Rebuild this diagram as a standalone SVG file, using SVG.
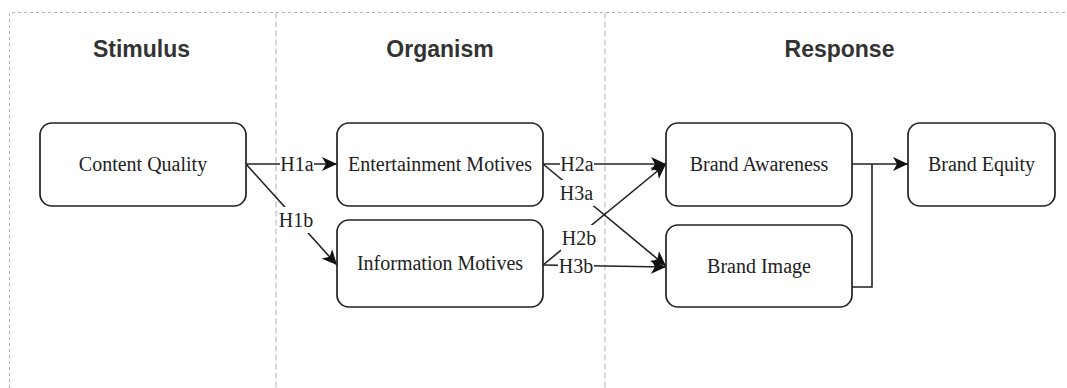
<svg xmlns="http://www.w3.org/2000/svg" width="1067" height="388" viewBox="0 0 1067 388">
<defs>
<style>
.lane{fill:none;stroke:#b3b3b3;stroke-width:1}
.outer{stroke-dasharray:3 3}
.inner{stroke-dasharray:6 3}
.hdr{font-family:"Liberation Sans",Arial,sans-serif;font-weight:bold;font-size:23px;fill:#333;text-anchor:middle}
.box rect{fill:#fff;stroke:#222;stroke-width:1.7}
.box text,.lbl text{font-family:"Liberation Serif","Times New Roman",serif;font-size:20px;fill:#222;text-anchor:middle}
.edge{fill:none;stroke:#222;stroke-width:1.6}
.lbl rect{fill:#fff;stroke:none}
</style>
<marker id="arr" markerUnits="userSpaceOnUse" markerWidth="15" markerHeight="14" refX="15" refY="7" orient="auto">
<path d="M0,0 L15,7 L0,14 L4,7 Z" fill="#111"/>
</marker>
</defs>
<rect width="1067" height="388" fill="#fff"/>
<g id="lanes">
<path class="lane outer" d="M9.5,388 V12.5 H1067"/>
<path class="lane inner" d="M276,12.5 V388"/>
<path class="lane inner" d="M605,12.5 V388"/>
<text class="hdr" x="141.5" y="57">Stimulus</text>
<text class="hdr" x="440" y="57">Organism</text>
<text class="hdr" x="839.5" y="57">Response</text>
</g>
<g id="connectors">
<path class="edge" d="M246,164 H337" marker-end="url(#arr)"/>
<path class="edge" d="M246,164 L337,265" marker-end="url(#arr)"/>
<path class="edge" d="M543,164 H666" marker-end="url(#arr)"/>
<path class="edge" d="M543,164 L666,266" marker-end="url(#arr)"/>
<path class="edge" d="M543,265 L666,164" marker-end="url(#arr)"/>
<path class="edge" d="M543,265 L666,267" marker-end="url(#arr)"/>
<path class="edge" d="M852,164 H908" marker-end="url(#arr)"/>
<path class="edge" d="M852,287 H872 V164"/>
<g class="lbl">
<rect x="280" y="153" width="34" height="22"/><text x="297" y="171">H1a</text>
<rect x="278" y="207" width="36" height="26"/><text x="296" y="227">H1b</text>
<rect x="560" y="153" width="34" height="22"/><text x="577" y="171">H2a</text>
<rect x="559" y="180" width="35" height="26"/><text x="576.5" y="200">H3a</text>
<rect x="561" y="225" width="36" height="26"/><text x="579" y="245">H2b</text>
<rect x="558" y="256" width="36" height="20"/><text x="576" y="273">H3b</text>
</g>
</g>
<g id="n-content-quality" class="box"><rect x="40" y="123" width="206" height="83" rx="12"/><text x="143" y="171">Content Quality</text></g>
<g id="n-entertainment" class="box"><rect x="337" y="123" width="206" height="83" rx="12"/><text x="440" y="171">Entertainment Motives</text></g>
<g id="n-information" class="box"><rect x="337" y="220" width="206" height="87" rx="12"/><text x="440" y="270">Information Motives</text></g>
<g id="n-brand-awareness" class="box"><rect x="666" y="123" width="186" height="83" rx="12"/><text x="759" y="171">Brand Awareness</text></g>
<g id="n-brand-image" class="box"><rect x="666" y="225" width="186" height="82" rx="12"/><text x="759" y="273">Brand Image</text></g>
<g id="n-brand-equity" class="box"><rect x="908" y="123" width="147" height="83" rx="12"/><text x="981.5" y="171">Brand Equity</text></g>
</svg>
